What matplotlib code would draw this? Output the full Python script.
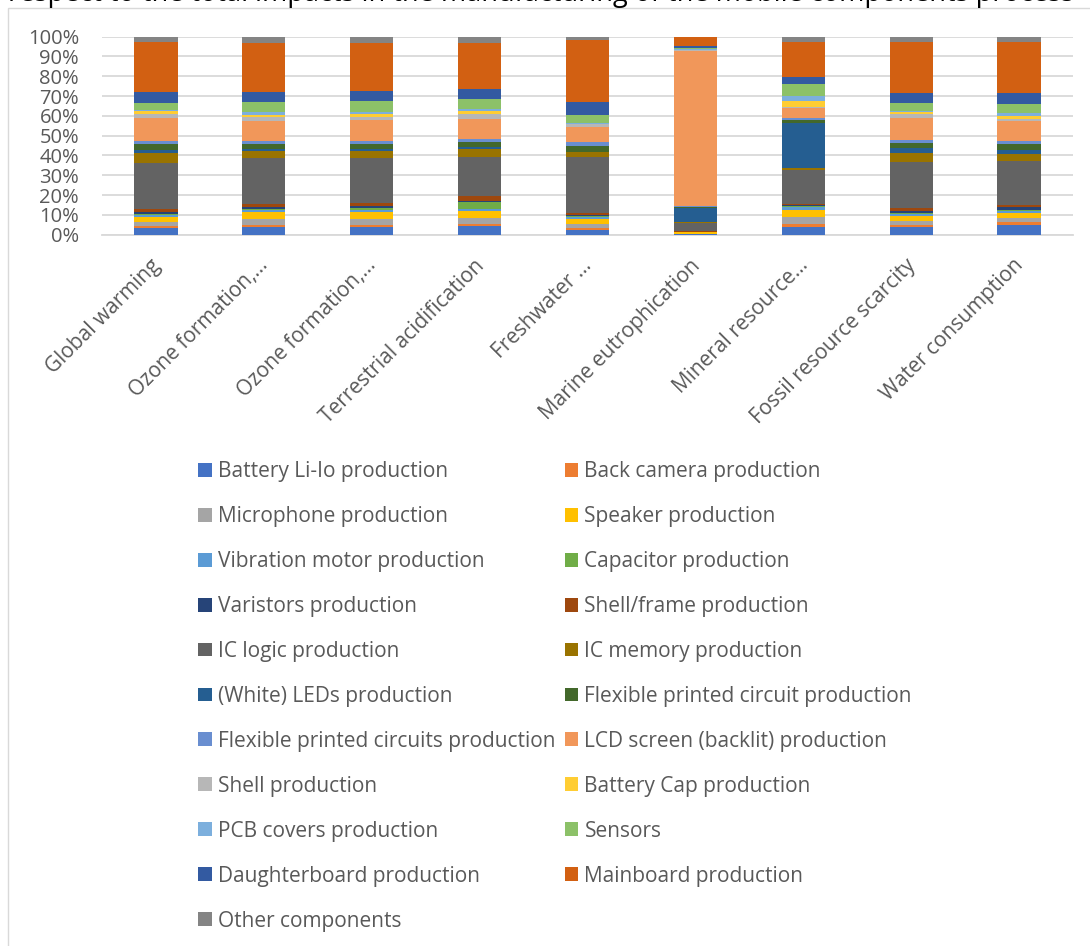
import matplotlib
matplotlib.use("Agg")
import matplotlib.pyplot as plt
import matplotlib.transforms as mtransforms
import numpy as np
from matplotlib.patches import Rectangle, Patch

plt.rcParams['font.family'] = ['Open Sans', 'DejaVu Sans']

categories = [
    "Global warming", "Ozone formation,…", "Ozone formation,…",
    "Terrestrial acidification", "Freshwater …", "Marine eutrophication",
    "Mineral resource…", "Fossil resource scarcity", "Water consumption",
]

series_names = [
    "Battery Li-Io production", "Back camera production",
    "Microphone production", "Speaker production",
    "Vibration motor production", "Capacitor production",
    "Varistors production", "Shell/frame production",
    "IC logic production", "IC memory production",
    "(White) LEDs production", "Flexible printed circuit production",
    "Flexible printed circuits production", "LCD screen (backlit) production",
    "Shell production", "Battery Cap production",
    "PCB covers production", "Sensors",
    "Daughterboard production", "Mainboard production",
    "Other components",
]

series_colors = [
    "#4472C4", "#ED7D31", "#A5A5A5", "#FFC000", "#5B9BD5", "#70AD47",
    "#264478", "#9E480E", "#636363", "#997300", "#255E91", "#43682B",
    "#698ED0", "#F1975A", "#B7B7B7", "#FFCD33", "#7CAFDD", "#8CC168",
    "#335AA1", "#D26012", "#848484",
]

# Share (%) of each component per impact category, one list per component
battery      = [3.4, 3.9, 3.9, 4.4, 2.4, 0.2, 4.0, 3.7, 5.0]
back_camera  = [1.0, 1.0, 1.2, 1.2, 0.8, 0.1, 1.3, 1.0, 1.2]
microphone   = [2.0, 3.0, 2.9, 2.9, 2.2, 0.3, 3.4, 2.2, 2.4]
speaker      = [2.4, 3.5, 3.5, 3.5, 2.4, 0.7, 4.0, 2.5, 2.4]
vibration    = [1.0, 1.0, 1.0, 0.8, 1.0, 0.1, 1.2, 1.2, 1.0]
capacitor    = [0.5, 0.8, 1.0, 3.7, 0.5, 0.1, 0.7, 0.5, 0.7]
varistors    = [1.2, 1.0, 1.0, 0.7, 0.7, 0.1, 0.2, 1.0, 1.2]
shell_frame  = [1.5, 1.5, 1.7, 2.5, 0.7, 0.2, 0.8, 1.5, 1.0]
ic_logic     = [23.4, 23.1, 22.7, 19.7, 28.3, 4.2, 17.2, 23.2, 22.4]
ic_memory    = [4.7, 3.4, 3.5, 3.7, 2.5, 0.3, 1.0, 4.5, 3.5]
leds         = [1.7, 1.0, 1.0, 1.0, 0.3, 7.4, 22.4, 2.5, 2.2]
flex_pc      = [2.9, 2.5, 2.4, 2.5, 3.2, 0.5, 1.9, 2.4, 2.7]
flex_pcs     = [1.7, 1.7, 1.7, 1.5, 2.0, 0.2, 1.0, 1.7, 1.5]
lcd          = [11.8, 10.1, 10.4, 10.1, 7.4, 78.1, 4.7, 11.1, 10.4]
shell        = [1.7, 1.7, 1.3, 2.5, 1.3, 0.6, 0.5, 1.7, 0.8]
battery_cap  = [1.5, 1.2, 1.7, 1.5, 0.3, 0.2, 3.0, 1.3, 1.5]
pcb_covers   = [0.7, 1.5, 1.0, 1.0, 0.3, 0.6, 2.5, 0.3, 1.5]
sensors      = [3.7, 5.0, 5.6, 5.2, 3.9, 0.5, 6.2, 4.0, 4.4]
daughterboard = [5.4, 5.2, 5.0, 5.0, 6.9, 0.8, 3.7, 5.4, 5.6]
mainboard    = [25.3, 24.7, 24.4, 23.4, 31.3, 4.4, 17.8, 25.3, 26.1]
other        = [2.7, 3.0, 3.0, 3.0, 1.5, 0.3, 2.5, 2.9, 2.5]

series_values = [
    battery, back_camera, microphone, speaker, vibration, capacitor,
    varistors, shell_frame, ic_logic, ic_memory, leds, flex_pc, flex_pcs,
    lcd, shell, battery_cap, pcb_covers, sensors, daughterboard,
    mainboard, other,
]

title_text = ("respect to the total impacts in the manufacturing of the "
              "mobile components process")

W, H = 1090, 946
fig = plt.figure(figsize=(W / 100, H / 100), dpi=100)

# chart frame
fig.patches.append(Rectangle((8 / W, -0.01), 1.02, 1 - 7.5 / H + 0.01,
                             transform=fig.transFigure, fill=False,
                             edgecolor="#D9D9D9", linewidth=1.0))

# caption line running off the top edge of the page
fig.text(8 / W, 1 - 1.5 / H, title_text, fontsize=19.5, color="black",
         ha="left", va="baseline")

left, right, top, bottom = 102, 1073, 36.7, 234.7
ax = fig.add_axes([left / W, 1 - bottom / H, (right - left) / W,
                   (bottom - top) / H])

vals = np.array(series_values, dtype=float)
shares = vals / vals.sum(axis=0)
x = np.arange(len(categories))
base = np.zeros(len(categories))
handles = []
for name, color, row in zip(series_names, series_colors, shares):
    ax.bar(x, row, width=0.4, bottom=base, color=color, label=name,
           edgecolor="none", zorder=3)
    base += row
    handles.append(Patch(facecolor=color, edgecolor="none", label=name))

ax.set_xlim(-0.5, len(categories) - 0.5)
ax.set_ylim(0, 1)
ticks = np.arange(0, 1.01, 0.1)
ax.set_yticks(ticks)
ax.set_yticklabels([f"{int(round(v * 100))}%" for v in ticks])
ax.yaxis.grid(True, color="#D9D9D9", linewidth=1.3, zorder=0)
ax.set_axisbelow(True)
for s in ["top", "right", "left"]:
    ax.spines[s].set_visible(False)
ax.spines["bottom"].set_color("#D9D9D9")
ax.spines["bottom"].set_linewidth(1.3)
ax.tick_params(axis="y", length=0, pad=16.5, labelsize=14.5,
               labelcolor="#595959")
ax.tick_params(axis="x", length=0, pad=6, labelsize=15, labelcolor="#595959")
ax.set_xticks(x)
ax.set_xticklabels(categories, rotation=45, ha="right",
                   rotation_mode="anchor")
shift = mtransforms.ScaledTranslation(-6 / 100, -12 / 100, fig.dpi_scale_trans)
for lbl in ax.get_xticklabels():
    lbl.set_transform(lbl.get_transform() + shift)

# legend laid out row by row across two columns
order = list(range(0, len(handles), 2)) + list(range(1, len(handles), 2))
leg = fig.legend([handles[i] for i in order],
                 [series_names[i] for i in order],
                 ncol=2, loc="upper left",
                 bbox_to_anchor=(198 / W, 1 - 461 / H),
                 frameon=False, fontsize=15, labelcolor="#595959",
                 handlelength=0.65, handleheight=0.65, handletextpad=0.3,
                 columnspacing=0.45, labelspacing=1.15, borderpad=0,
                 borderaxespad=0)

fig.savefig("out.png", dpi=100, facecolor="white")
